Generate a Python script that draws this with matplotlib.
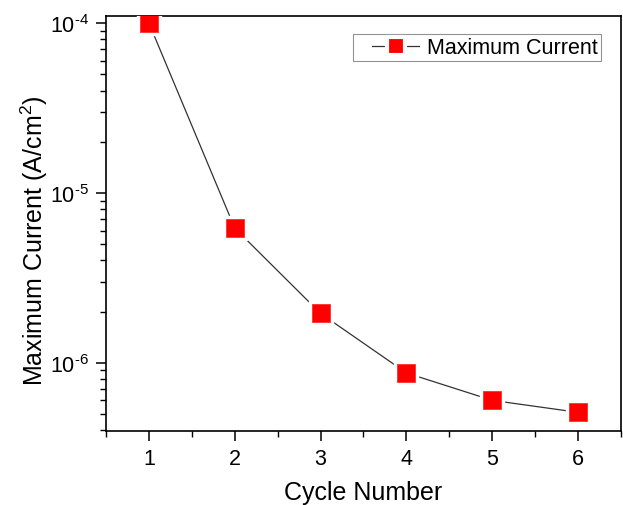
import numpy as np
import matplotlib.pyplot as plt
from matplotlib.ticker import LogLocator, MultipleLocator, NullFormatter, FuncFormatter
from matplotlib.lines import Line2D
from matplotlib.legend_handler import HandlerLine2D

plt.rcParams['font.family'] = ['Liberation Sans', 'DejaVu Sans']
plt.rcParams['mathtext.fontset'] = 'custom'
plt.rcParams['mathtext.rm'] = 'Liberation Sans'
plt.rcParams['mathtext.default'] = 'regular'

# data
cycles = [1, 2, 3, 4, 5, 6]
max_current = [1.0e-4, 6.2e-6, 1.95e-6, 8.7e-7, 6.0e-7, 5.1e-7]

fig = plt.figure(figsize=(6.23, 5.06), dpi=100)
ax = fig.add_axes([106/623, 1 - 432/506, (621-106)/623, (432-17)/506])

# line, then white pads so the line stops short of each marker, then red squares
ax.plot(cycles, max_current, color='#333333', lw=0.9, zorder=2)
ax.plot(cycles, max_current, ls='none', marker='s', ms=17, mfc='white', mec='white', zorder=3)
ax.plot(cycles, max_current, ls='none', marker='s', ms=13, mfc='red', mec='#ff3030', mew=0.6, zorder=4)

ax.set_yscale('log')
ax.set_xlim(0.5, 6.5)
ax.set_ylim(3.96e-7, 1.1e-4)
ax.yaxis.set_major_locator(LogLocator(base=10, numticks=10))
ax.yaxis.set_minor_locator(LogLocator(base=10, subs=np.arange(2, 10), numticks=20))
ax.yaxis.set_minor_formatter(NullFormatter())
ax.yaxis.set_major_formatter(FuncFormatter(
    lambda v, pos: r'10$^{\text{%d}}$' % int(round(np.log10(v)))))
ax.xaxis.set_major_locator(MultipleLocator(1))
ax.xaxis.set_minor_locator(MultipleLocator(0.5))

ax.tick_params(which='major', direction='out', length=7, width=1.1, labelsize=15.5, pad=5)
ax.tick_params(which='minor', direction='out', length=4, width=1.0)
for s in ax.spines.values():
    s.set_linewidth(1.2)

ax.set_xlabel('Cycle Number', fontsize=18, labelpad=8)
ax.set_ylabel('Maximum Current (A/cm$^2$)', fontsize=18)
ax.yaxis.set_label_coords(-0.108, 0.46)

handle = Line2D([], [], color='#333333', lw=0.9, marker='s', ms=13,
                mfc='red', mec='white', mew=3)
leg = ax.legend([handle], ['Maximum Current'], loc='upper right', fontsize=15.5,
                frameon=True, fancybox=False, edgecolor='#777777',
                borderpad=0.15, borderaxespad=0, handlelength=2.95, handletextpad=0.35,
                bbox_to_anchor=(0.961, 0.957),
                handler_map={Line2D: HandlerLine2D(xpad=0.75)})
leg.get_frame().set_linewidth(0.8)

fig.savefig('out.png', dpi=100)
